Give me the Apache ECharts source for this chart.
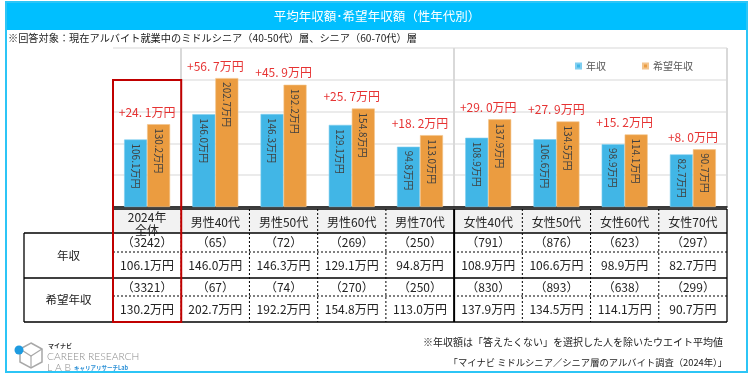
<!DOCTYPE html>
<html><head><meta charset="utf-8">
<script src="https://cdn.jsdelivr.net/npm/echarts@6/dist/echarts.min.js"></script>
<style>html,body{margin:0;padding:0;background:#fff}#c{width:754px;height:388px}</style>
</head><body><div id="c"></div>
<script>
// ---- data ----
const categories = ['2024年\n全体', '男性40代', '男性50代', '男性60代', '男性70代', '女性40代', '女性50代', '女性60代', '女性70代'];
const seriesNames = ['年収', '希望年収'];
const income = [106.1, 146.0, 146.3, 129.1, 94.8, 108.9, 106.6, 98.9, 82.7];
const hope = [130.2, 202.7, 192.2, 154.8, 113.0, 137.9, 134.5, 114.1, 90.7];
const incomeN = [3242, 65, 72, 269, 250, 791, 876, 623, 297];
const hopeN = [3321, 67, 74, 270, 250, 830, 893, 638, 299];
const rowLabels = ['年収', '希望年収'];
const titleText = '平均年収額･希望年収額（性年代別）';
const subText = '※回答対象：現在アルバイト就業中のミドルシニア（40-50代）層、シニア（60-70代）層';
const note1 = '※年収額は「答えたくない」を選択した人を除いたウエイト平均値';
const note2 = '「マイナビ ミドルシニア／シニア層のアルバイト調査（2024年）」';

// ---- layout ----
const FONT = '"Noto Sans CJK JP", "Noto Sans", sans-serif';
const W = 754;
const G = {left: 113, right: 27, top: 48, bottom: 181};
const colW = (W - G.left - G.right) / categories.length;
const colX = i => G.left + i * colW;
const rowY = [209, 233, 252, 278, 296, 322];
const BLUE = '#41B6E6', ORANGE = '#EB9C40';
const fmt = v => v.toFixed(1) + '万円';
const diffs = hope.map((h, i) => h - income[i]);
const fmtDiff = d => '+' + d.toFixed(1).replace('.', '. ') + '万円';

const g = [];
// frame & title bar
g.push({type: 'rect', z: 1, shape: {x: 6, y: 2, width: 741, height: 28}, style: {fill: '#00BFFF'}});
g.push({type: 'rect', z: 60, shape: {x: 6, y: 2, width: 741, height: 370}, style: {fill: 'none', stroke: '#2CC5F6', lineWidth: 2}});
g.push({type: 'text', z: 61, style: {text: titleText, x: 377, y: 16, align: 'center', verticalAlign: 'middle', fill: '#fff', fontSize: 12.5, fontFamily: FONT}});
g.push({type: 'text', z: 61, style: {text: subText, x: 8, y: 38, align: 'left', verticalAlign: 'middle', fill: '#222', fontSize: 10.2, fontFamily: FONT}});

// table header background
g.push({type: 'rect', z: 2, shape: {x: G.left, y: rowY[0], width: colX(categories.length) - G.left, height: rowY[1] - rowY[0]}, style: {fill: '#F2F2F2'}});

const line = (x1, y1, x2, y2, w, dash) => g.push({type: 'line', z: 20, shape: {x1, y1, x2, y2}, style: {stroke: '#000', lineWidth: w, lineDash: dash || null}});
const right = colX(categories.length);
// horizontal lines
line(G.left, rowY[0], right, rowY[0], 1.3);
line(24, rowY[1], right, rowY[1], 1.3);
line(G.left, rowY[2], right, rowY[2], 1, [2, 2]);
line(24, rowY[3], right, rowY[3], 1.3);
line(G.left, rowY[4], right, rowY[4], 1, [2, 2]);
line(24, rowY[5], right, rowY[5], 1.3);
// vertical lines
line(24, rowY[1], 24, rowY[5], 1.3);
line(G.left, rowY[1], G.left, rowY[5], 1.3);
for (let i = 1; i <= categories.length; i++) {
  if (i === 5) line(colX(i), rowY[0], colX(i), rowY[5], 2);
  else if (i === categories.length) line(colX(i), rowY[0], colX(i), rowY[5], 1.3);
  else line(colX(i), rowY[0], colX(i), rowY[5], 1, [2, 2]);
}
// text in table
const txt = (t, x, y, size) => g.push({type: 'text', z: 30, style: {text: t, x, y, align: 'center', verticalAlign: 'middle', fill: '#222', fontSize: size, fontFamily: FONT, lineHeight: 13}});
categories.forEach((c, i) => {
  const cx = colX(i) + colW / 2;
  txt(c, cx, c.indexOf('\n') >= 0 ? 224 : 222, 12);
  txt('（' + incomeN[i] + '）', cx, (rowY[1] + rowY[2]) / 2, 12);
  txt(fmt(income[i]), cx, (rowY[2] + rowY[3]) / 2, 12);
  txt('（' + hopeN[i] + '）', cx, (rowY[3] + rowY[4]) / 2, 12);
  txt(fmt(hope[i]), cx, (rowY[4] + rowY[5]) / 2, 12);
});
txt(rowLabels[0], (24 + G.left) / 2, (rowY[1] + rowY[3]) / 2, 11.5);
txt(rowLabels[1], (24 + G.left) / 2, (rowY[3] + rowY[5]) / 2, 11.5);

// red highlight box
g.push({type: 'rect', z: 40, shape: {x: G.left, y: 80, width: colW, height: rowY[5] - 80}, style: {fill: 'none', stroke: '#C00000', lineWidth: 2}});

// footer notes
g.push({type: 'text', z: 30, style: {text: note1, x: 723, y: 342, align: 'right', verticalAlign: 'middle', fill: '#222', fontSize: 10, fontFamily: FONT}});
g.push({type: 'text', z: 30, style: {text: note2, x: 727, y: 362, align: 'right', verticalAlign: 'middle', fill: '#222', fontSize: 9.3, fontFamily: FONT}});

// logo
g.push({type: 'polygon', z: 30, shape: {points: [[31, 343], [42, 349], [42, 362], [31, 368], [20, 362], [20, 349]]}, style: {fill: 'none', stroke: '#A8A8A8', lineWidth: 1.5}});
g.push({type: 'polyline', z: 30, shape: {points: [[20, 349], [31, 356], [42, 349]]}, style: {fill: 'none', stroke: '#A8A8A8', lineWidth: 1.2}});
g.push({type: 'polyline', z: 30, shape: {points: [[31, 356], [31, 368]]}, style: {fill: 'none', stroke: '#A8A8A8', lineWidth: 1.2}});
g.push({type: 'circle', z: 31, shape: {cx: 19, cy: 350, r: 4.5}, style: {fill: '#1E9BE0'}});
g.push({type: 'text', z: 30, style: {text: 'マイナビ', x: 48, y: 346, align: 'left', verticalAlign: 'middle', fill: '#333', fontSize: 6, fontWeight: 'bold', fontFamily: FONT}});
g.push({type: 'text', z: 30, style: {text: 'CAREER RESEARCH', x: 47, y: 357, align: 'left', verticalAlign: 'middle', fill: '#8C8C8C', fontSize: 10.3, fontWeight: 300, fontFamily: 'Lato, "Open Sans", sans-serif'}});
g.push({type: 'text', z: 30, style: {text: 'L A B', x: 47, y: 368, align: 'left', verticalAlign: 'middle', fill: '#8C8C8C', fontSize: 10.3, fontWeight: 300, fontFamily: 'Lato, "Open Sans", sans-serif'}});
g.push({type: 'text', z: 30, style: {text: 'キャリアリサーチLab', x: 74, y: 368, align: 'left', verticalAlign: 'middle', fill: '#2A8FD6', fontSize: 5.5, fontWeight: 'bold', fontFamily: FONT}});

const chart = echarts.init(document.getElementById('c'), null, {renderer: 'canvas'});
const barLabel = {show: true, position: 'insideTop', rotate: -90, align: 'left', verticalAlign: 'middle', distance: 4, fontSize: 10, color: '#404040', fontFamily: FONT, formatter: p => fmt(p.value)};
chart.setOption({
  animation: false,
  textStyle: {fontFamily: FONT},
  grid: {left: G.left, right: G.right, top: G.top, bottom: G.bottom},
  legend: {data: seriesNames, left: 570, top: 56, icon: 'rect', itemWidth: 5, itemHeight: 5, itemGap: 36, textStyle: {fontSize: 10, color: '#595959', fontFamily: FONT}},
  xAxis: {
    type: 'category', data: categories,
    axisLine: {lineStyle: {color: '#000', width: 1.5}}, axisTick: {show: false}, axisLabel: {show: false},
    splitLine: {show: true, interval: i => i === 1 || i === 5, lineStyle: {color: '#D9D9D9', width: 2}}
  },
  yAxis: {
    type: 'value', min: 0, max: 250, interval: 50,
    axisLabel: {show: false}, axisLine: {show: false}, axisTick: {show: false},
    splitLine: {lineStyle: {color: '#E4E4E4', width: 1.5}}
  },
  series: [
    {name: seriesNames[0], type: 'bar', data: income, barWidth: 23, barGap: '0%', itemStyle: {color: BLUE, borderColor: '#7FCEF0', borderWidth: 0.6}, label: barLabel},
    {name: seriesNames[1], type: 'bar', data: hope, barWidth: 23, barGap: '0%', itemStyle: {color: ORANGE, borderColor: '#F3C48C', borderWidth: 0.6}, label: barLabel},
    {name: 'diff', type: 'scatter', data: hope, symbolSize: 0, silent: true, z: 10,
      label: {show: true, position: 'top', distance: 6, fontSize: 12, color: '#E00000', fontFamily: FONT, formatter: p => fmtDiff(diffs[p.dataIndex])}}
  ],
  graphic: g
});
</script></body></html>
